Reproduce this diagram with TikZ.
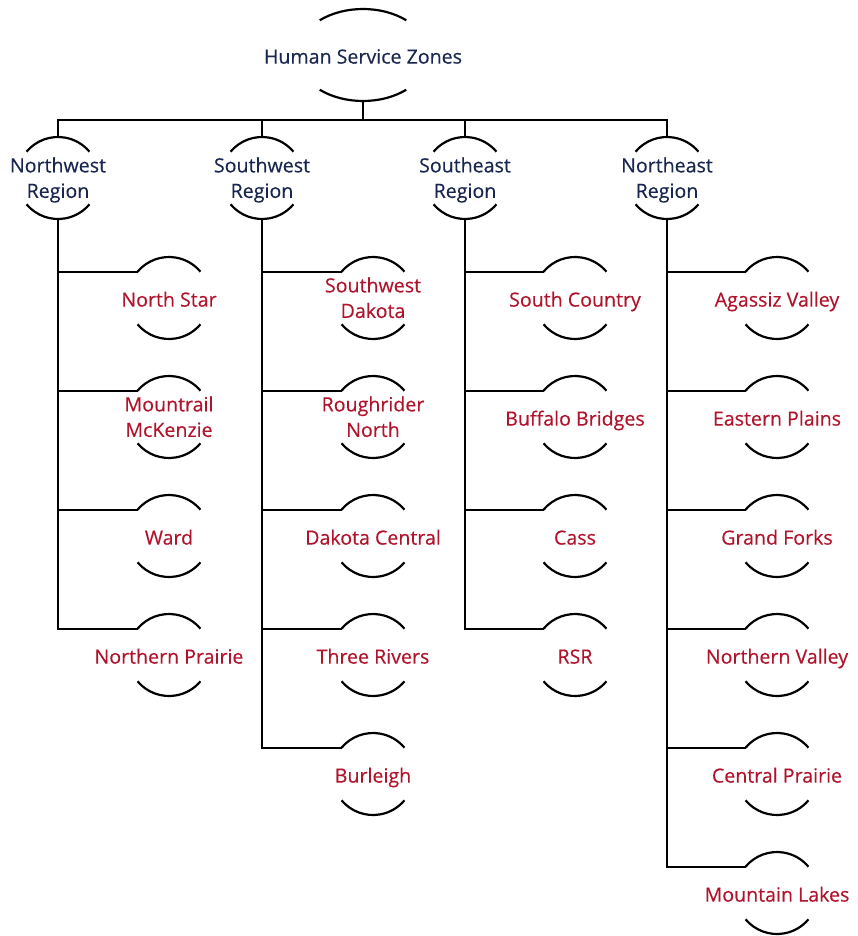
\documentclass[tikz,border=0pt]{standalone}
\usepackage{fontspec}
\setmainfont{Open Sans}[FakeBold=0.3]
\usetikzlibrary{shapes.geometric}
\definecolor{zonenavy}{HTML}{19264F}
\definecolor{zonered}{HTML}{B0142C}
\begin{document}
\begin{tikzpicture}[x=1pt, y=1pt, line width=2.2pt,
    region/.style={circle, minimum size=82pt, inner sep=0pt, outer sep=0pt},
    labeltext/.style={align=center, font=\fontsize{19.6}{25.5}\selectfont, yshift=-3.5pt,
        execute at begin node=\strut, execute at end node=\strut},
    regiontext/.style={labeltext, text=zonenavy},
    zonetext/.style={labeltext, text=zonered}]
    \useasboundingbox (0,0) rectangle (858,-936);
    % top of the tree
    \node[ellipse, minimum width=132pt, minimum height=92pt, inner sep=0pt, outer sep=0pt,
        label={[regiontext]center:Human Service Zones}] (hsz) at (363,-55) {};
    \draw (hsz.center) ++(131:66 and 46) arc[start angle=131, end angle=49, x radius=66, y radius=46];
    \draw (hsz.center) ++(229:66 and 46) arc[start angle=229, end angle=311, x radius=66, y radius=46];
    % regions
    \node[region, label={[regiontext]center:Northwest\\Region}] (nw) at (58,-178) {};
    \node[region, label={[regiontext]center:Southwest\\Region}] (sw) at (262,-178) {};
    \node[region, label={[regiontext]center:Southeast\\Region}] (se) at (465,-178) {};
    \node[region, label={[regiontext]center:Northeast\\Region}] (ne) at (667,-178) {};
    % northwest zones
    \node[region, label={[zonetext]center:North Star}] (nstar) at (169,-298) {};
    \node[region, label={[zonetext]center:Mountrail\\McKenzie}] (mountrail) at (169,-417) {};
    \node[region, label={[zonetext]center:Ward}] (ward) at (169,-536) {};
    \node[region, label={[zonetext]center:Northern Prairie}] (nprairie) at (169,-655) {};
    % southwest zones
    \node[region, label={[zonetext]center:Southwest\\Dakota}] (swdakota) at (373,-298) {};
    \node[region, label={[zonetext]center:Roughrider\\North}] (roughrider) at (373,-417) {};
    \node[region, label={[zonetext]center:Dakota Central}] (dcentral) at (373,-536) {};
    \node[region, label={[zonetext]center:Three Rivers}] (trivers) at (373,-655) {};
    \node[region, label={[zonetext]center:Burleigh}] (burleigh) at (373,-774) {};
    % southeast zones
    \node[region, label={[zonetext]center:South Country}] (scountry) at (575,-298) {};
    \node[region, label={[zonetext]center:Buffalo Bridges}] (buffalo) at (575,-417) {};
    \node[region, label={[zonetext]center:Cass}] (cass) at (575,-536) {};
    \node[region, label={[zonetext]center:RSR}] (rsr) at (575,-655) {};
    % northeast zones
    \node[region, label={[zonetext]center:Agassiz Valley}] (agassiz) at (777,-298) {};
    \node[region, label={[zonetext]center:Eastern Plains}] (eplains) at (777,-417) {};
    \node[region, label={[zonetext]center:Grand Forks}] (gforks) at (777,-536) {};
    \node[region, label={[zonetext]center:Northern Valley}] (nvalley) at (777,-655) {};
    \node[region, label={[zonetext]center:Central Prairie}] (cprairie) at (777,-774) {};
    \node[region, label={[zonetext]center:Mountain Lakes}] (mlakes) at (777,-893) {};
    % arcs round every label
    \foreach \n in {nw,sw,se,ne,nstar,mountrail,ward,nprairie,swdakota,roughrider,dcentral,trivers,burleigh,
        scountry,buffalo,cass,rsr,agassiz,eplains,gforks,nvalley,cprairie,mlakes} {
        \draw (\n.140) arc[start angle=140, end angle=40, radius=41];
        \draw (\n.220) arc[start angle=220, end angle=320, radius=41];
    }
    % connectors
    \coordinate (bar) at (363,-120);
    \draw (hsz.south) -- (bar);
    \foreach \r in {nw,sw,se,ne}
        \draw (bar) -| (\r.north);
    \foreach \c in {nstar,mountrail,ward,nprairie}
        \draw (nw.south) |- (\c.140);
    \foreach \c in {swdakota,roughrider,dcentral,trivers,burleigh}
        \draw (sw.south) |- (\c.140);
    \foreach \c in {scountry,buffalo,cass,rsr}
        \draw (se.south) |- (\c.140);
    \foreach \c in {agassiz,eplains,gforks,nvalley,cprairie,mlakes}
        \draw (ne.south) |- (\c.140);
\end{tikzpicture}
\end{document}
